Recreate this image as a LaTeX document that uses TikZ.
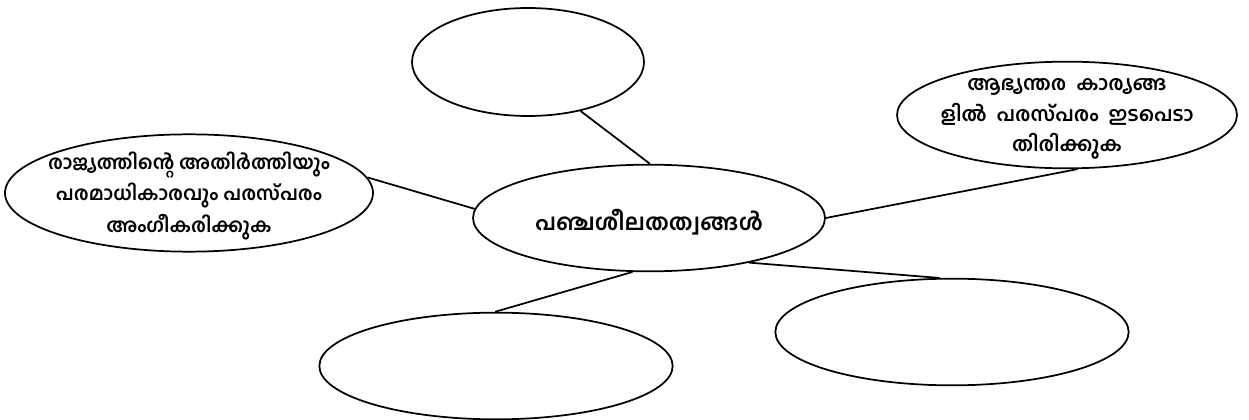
\documentclass[tikz,border=0pt]{standalone}
\usepackage{fontspec}
\newfontfamily\mlfont[Script=Malayalam]{Hind Kochi}
\usepackage{tikz}
\usetikzlibrary{shapes.geometric, calc}

\tikzset{
	bubble/.style={ellipse, draw=black, line width=1.3pt, inner sep=0pt},
	txt/.style={align=center, inner sep=0pt, font=\mlfont\bfseries\fontsize{14.5}{23.5}\selectfont},
	link/.style={draw=black, line width=1.3pt}
}

\begin{document}
\begin{tikzpicture}[x=0.75pt, y=-0.75pt]
	
	% Area del disegno
	\useasboundingbox (0,0) rectangle (1249,420);
	
	% Ellisse centrale
	\node[bubble, minimum width=264pt, minimum height=80pt] (mid) at (649,218) {};
	\node[txt, font=\mlfont\bfseries\fontsize{17}{24}\selectfont] (midtxt)
		at ([yshift=-3pt]mid.center) {പഞ്ചശീലതത്വങ്ങൾ};
	
	% Ellissi attorno
	\node[bubble, minimum width=174pt, minimum height=81pt] (top) at (528,62) {};
	\node[bubble, minimum width=276pt, minimum height=88pt] (lft) at (189,193) {};
	\node[bubble, minimum width=255pt, minimum height=80pt] (rgt) at (1067,115) {};
	\node[bubble, minimum width=265pt, minimum height=80pt] (bl) at (496,366) {};
	\node[bubble, minimum width=265pt, minimum height=80pt] (br) at (952,332) {};
	
	% Testi nelle ellissi
	\node[txt] (lfttxt) at ([yshift=-2pt]lft.center)
		{രാജ്യത്തിന്റെ അതിർത്തിയും\\പരമാധികാരവും പരസ്പരം\\അംഗീകരിക്കുക};
	\node[txt, font=\mlfont\bfseries\fontsize{15}{23}\selectfont] (rgttxt) at ([yshift=-3pt]rgt.center)
		{ആഭ്യന്തര\ \ കാര്യങ്ങ\\ളിൽ\ \ പരസ്പരം\ \ ഇടപെടാ\\തിരിക്കുക};
	
	% Linee di collegamento
	\draw[link] (top.-43) -- (mid.89);
	\draw[link] (lft.5) -- (mid.177);
	\draw[link] (mid.0) -- (rgt.-79);
	\draw[link] (mid.-107) -- (bl.91);
	\draw[link] (mid.-24) -- (br.103);
	
\end{tikzpicture}
\end{document}
